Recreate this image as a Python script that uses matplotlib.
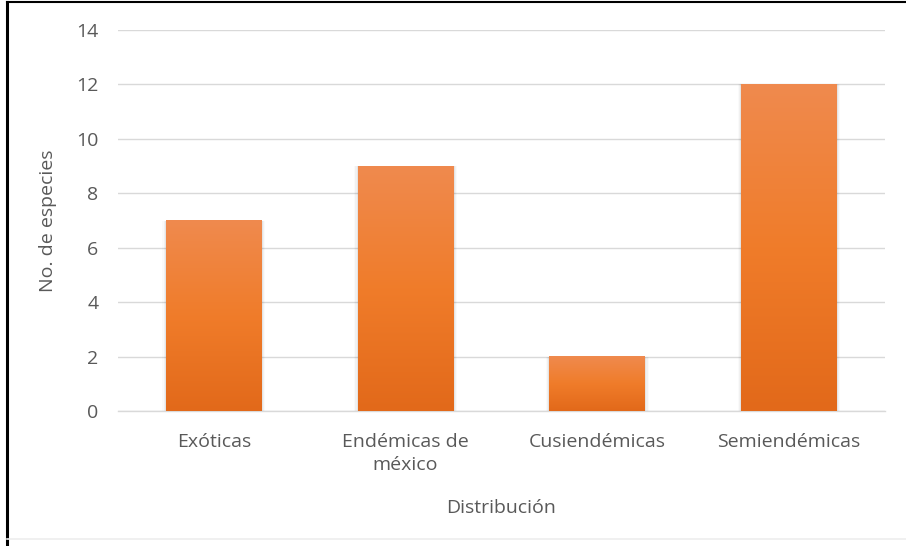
import matplotlib
matplotlib.use("Agg")
import matplotlib.pyplot as plt
import numpy as np
from matplotlib.colors import LinearSegmentedColormap
from matplotlib.lines import Line2D

categories = ["Exóticas", "Endémicas de\nméxico", "Cusiendémicas", "Semiendémicas"]
values = [7, 9, 2, 12]
yticks = [0, 2, 4, 6, 8, 10, 12, 14]

plt.rcParams["font.family"] = ["Open Sans", "DejaVu Sans"]
text_color = "#595959"

fig = plt.figure(figsize=(9.06, 5.46), dpi=100)
ax = fig.add_axes([0.1302, 0.2473, 0.8466, 0.6977])

bar_width = 0.5
x = np.arange(len(categories))

# vertical gradient for the bars: lighter at the top, darker at the base
grad_cmap = LinearSegmentedColormap.from_list(
    "bar_grad", ["#E2691A", "#F07C2A", "#EF8A4E"])
grad = np.linspace(0, 1, 256).reshape(-1, 1)

bars = ax.bar(x, values, width=bar_width, color="none", edgecolor="none", zorder=3)
for rect in bars:
    x0, y0 = rect.get_x(), rect.get_y()
    w, h = rect.get_width(), rect.get_height()
    # soft shadow along the sides of the bar
    for i, a in enumerate([0.05, 0.035, 0.02]):
        pad = 0.006 * (i + 1)
        ax.add_patch(plt.Rectangle((x0 - pad, y0), w + 2 * pad, h,
                                   color="#000000", alpha=a, lw=0, zorder=2))
    ax.imshow(grad, extent=(x0, x0 + w, y0, y0 + h), origin="lower",
              cmap=grad_cmap, aspect="auto", zorder=3)

ax.set_xlim(-0.5, len(categories) - 0.5)
ax.set_ylim(0, 14)
ax.set_yticks(yticks)
ax.set_xticks(x)
ax.set_xticklabels(categories, fontsize=14, color=text_color, linespacing=1.35)
ax.tick_params(axis="y", labelsize=14, labelcolor=text_color, length=0, pad=14)
ax.tick_params(axis="x", length=0, pad=16)
ax.yaxis.grid(True, color="#D9D9D9", lw=1.0, zorder=0)
ax.set_axisbelow(True)
for s in ["top", "right", "left"]:
    ax.spines[s].set_visible(False)
ax.spines["bottom"].set_color("#D9D9D9")
ax.spines["bottom"].set_linewidth(1.0)

ax.set_ylabel("No. de especies", fontsize=14, color=text_color, labelpad=14)
ax.set_xlabel("Distribución", fontsize=14, color=text_color, labelpad=18)

# frame lines around the figure
fig.add_artist(Line2D([0.0075, 0.0075], [0, 0.996], color="black", lw=2.2,
                      transform=fig.transFigure))
fig.add_artist(Line2D([0.0075, 1.0], [0.996, 0.996], color="black", lw=1.5,
                      transform=fig.transFigure))
fig.add_artist(Line2D([0.0075, 1.0], [0.012, 0.012], color="#EEEEEE", lw=1.2,
                      transform=fig.transFigure))

fig.savefig("out.png", dpi=100)
